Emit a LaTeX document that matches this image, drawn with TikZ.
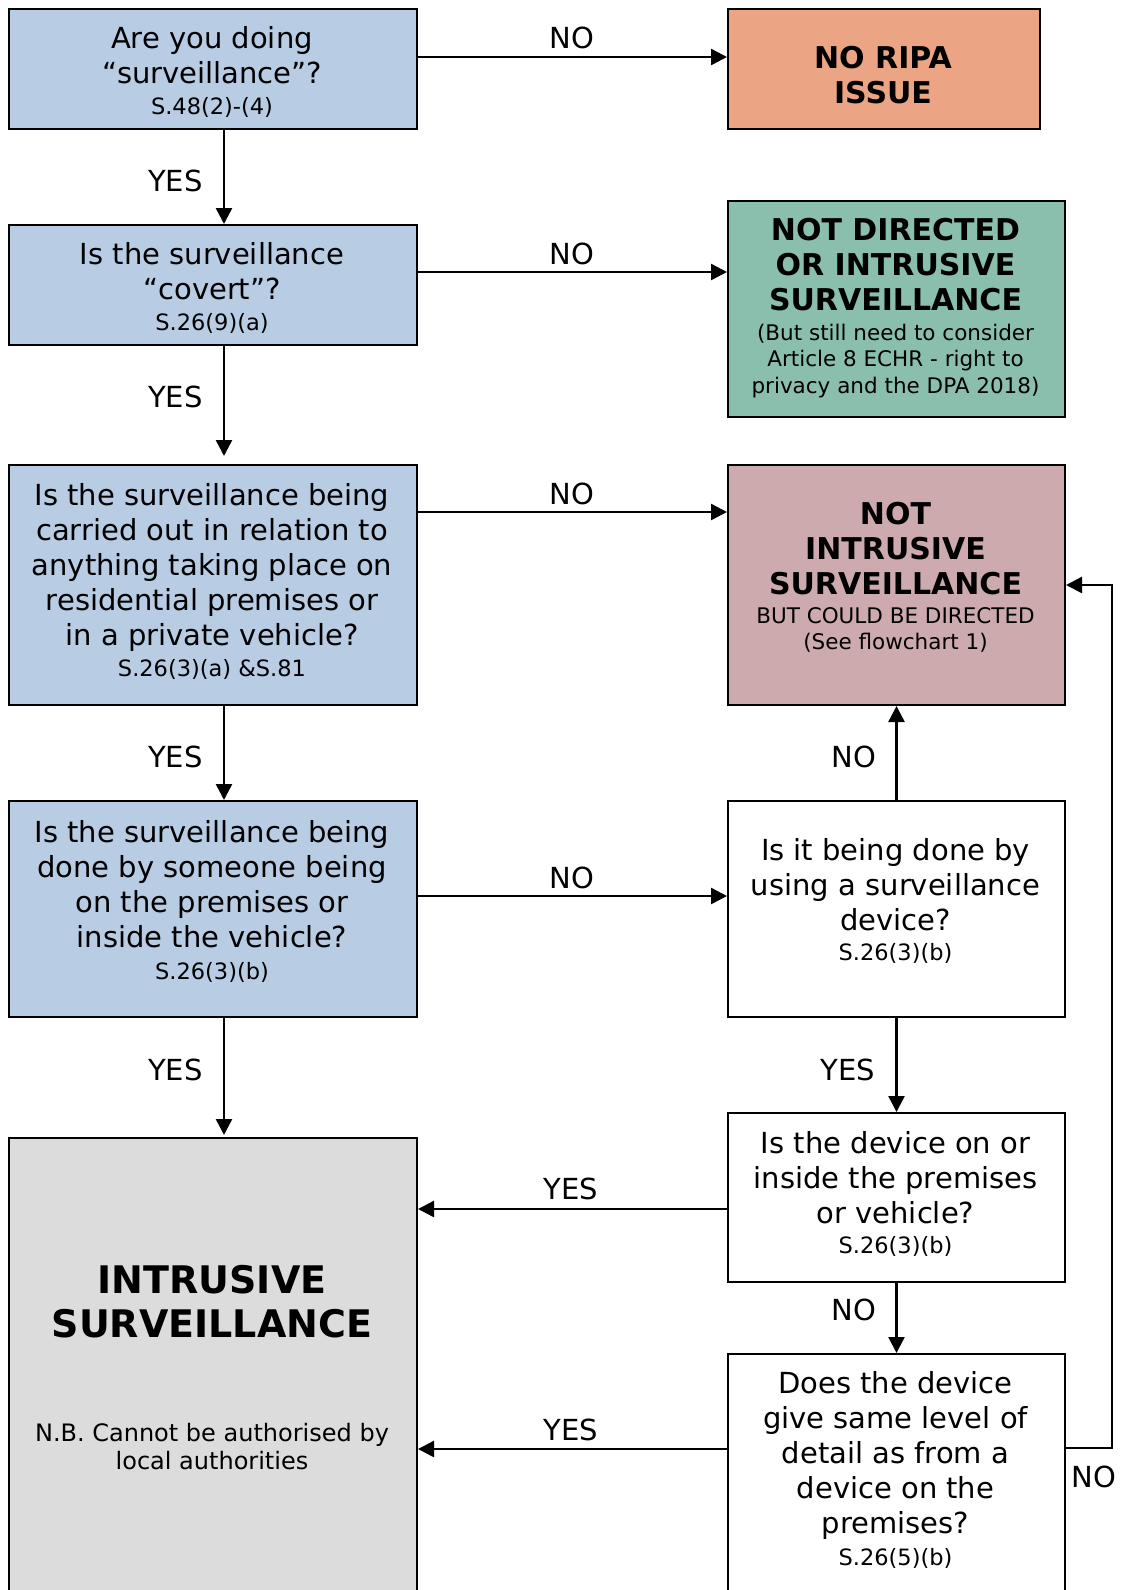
\documentclass[tikz,border=0pt]{standalone}
\usepackage{fontspec}
\setmainfont{DejaVu Sans}
\usetikzlibrary{arrows.meta}
\definecolor{bluebox}{HTML}{B8CCE4}
\definecolor{orangebox}{HTML}{ECA584}
\definecolor{greenbox}{HTML}{8BBFAD}
\definecolor{pinkbox}{HTML}{CDAAAD}
\definecolor{graybox}{HTML}{DCDCDC}
\begin{document}
\begin{tikzpicture}[x=1pt,y=-1pt,
  box/.style={draw=black, line width=2pt, anchor=north west, inner sep=0pt},
  arr/.style={line width=2.4pt, -{Triangle[length=16pt,width=16pt]}},
  maintxt/.style={anchor=north, inner sep=0pt, align=center, font=\fontsize{29}{35}\selectfont},
  reftxt/.style={anchor=base, inner sep=0pt, font=\fontsize{22.5}{26}\selectfont},
  boldtxt/.style={anchor=north, inner sep=0pt, align=center, font=\fontsize{30}{35}\selectfont\bfseries},
  smalltxt/.style={anchor=north, inner sep=0pt, align=center, font=\fontsize{21.5}{26.5}\selectfont},
  bigtxt/.style={anchor=north, inner sep=0pt, align=center, font=\fontsize{38}{44}\selectfont\bfseries},
  nbtxt/.style={anchor=north, inner sep=0pt, align=center, font=\fontsize{24}{28}\selectfont},
  lbl/.style={anchor=base, inner sep=0pt, font=\fontsize{29}{35}\selectfont}]
\clip (0,0) rectangle (1121,1590);
\fill[white] (0,0) rectangle (1121,1590);
% boxes
\node[box, fill=bluebox, minimum width=408pt, minimum height=120pt] (b1) at (8,8) {};
\node[box, fill=bluebox, minimum width=408pt, minimum height=120pt] (b2) at (8,224) {};
\node[box, fill=bluebox, minimum width=408pt, minimum height=240pt] (b3) at (8,464) {};
\node[box, fill=bluebox, minimum width=408pt, minimum height=216pt] (b4) at (8,800) {};
\node[box, fill=graybox, minimum width=408pt, minimum height=470pt] (b5) at (8,1137) {};
\node[box, fill=orangebox, minimum width=312pt, minimum height=120pt] (r1) at (727,8) {};
\node[box, fill=greenbox, minimum width=337pt, minimum height=216pt] (r2) at (727,200) {};
\node[box, fill=pinkbox, minimum width=337pt, minimum height=240pt] (r3) at (727,464) {};
\node[box, fill=white, minimum width=337pt, minimum height=216pt] (r4) at (727,800) {};
\node[box, fill=white, minimum width=337pt, minimum height=169pt] (r5) at (727,1112) {};
\node[box, fill=white, minimum width=337pt, minimum height=260pt] (r6) at (727,1353) {};
% texts
\node[maintxt] (b1t) at (212,23.5) {\strut Are you doing\\“surveillance”?};
\node[reftxt] (b1r) at (212,114.5) {S.48(2)-(4)};
\node[maintxt] (b2t) at (212,239.5) {\strut Is the surveillance\\“covert”?};
\node[reftxt] (b2r) at (212,330.5) {S.26(9)(a)};
\node[maintxt] (b3t) at (212,480.5) {\strut Is the surveillance being\\carried out in relation to\\anything taking place on\\residential premises or\\in a private vehicle?};
\node[reftxt] (b3r) at (212,676) {S.26(3)(a) \&S.81};
\node[maintxt] (b4t) at (212,817.5) {\strut Is the surveillance being\\done by someone being\\on the premises or\\inside the vehicle?};
\node[reftxt] (b4r) at (212,979) {S.26(3)(b)};
\node[bigtxt] (b5t) at (212,1262.2) {\strut INTRUSIVE\\SURVEILLANCE};
\node[nbtxt] (b5n) at (212,1421.4) {\strut N.B. Cannot be authorised by\\local authorities};
\node[boldtxt] (r1t) at (883,43.5) {\strut NO RIPA\\ISSUE};
\node[boldtxt] (r2t) at (895.5,215.5) {\strut NOT DIRECTED\\OR INTRUSIVE\\SURVEILLANCE};
\node[smalltxt] (r2s) at (895.5,321.45) {\strut (But still need to consider\\Article 8 ECHR - right to\\privacy and the DPA 2018)};
\node[boldtxt] (r3t) at (895.5,499.5) {\strut NOT\\INTRUSIVE\\SURVEILLANCE};
\node[smalltxt] (r3s) at (895.5,604.45) {\strut BUT COULD BE DIRECTED\\(See flowchart 1)};
\node[maintxt] (r4t) at (895.5,835.5) {\strut Is it being done by\\using a surveillance\\device?};
\node[reftxt] (r4r) at (895.5,960) {S.26(3)(b)};
\node[maintxt] (r5t) at (895.5,1128.5) {\strut Is the device on or\\inside the premises\\or vehicle?};
\node[reftxt] (r5r) at (895.5,1253) {S.26(3)(b)};
\node[maintxt] (r6t) at (895.5,1368.5) {\strut Does the device\\give same level of\\detail as from a\\device on the\\premises?};
\node[reftxt] (r6r) at (895.5,1565) {S.26(5)(b)};
% coordinates
\coordinate (xL) at (224,0);
\coordinate (xR) at (1112,0);
\coordinate (yA) at (0,57);
\coordinate (yB) at (0,272);
\coordinate (yC) at (0,512);
\coordinate (yD) at (0,896);
\coordinate (yE) at (0,1209);
\coordinate (yF) at (0,1449);
\coordinate (yG) at (0,1448);
\coordinate (yH) at (0,585);
% connectors
\draw[arr] (b1.east |- yA) -- (r1.west |- yA);
\draw[arr] (b2.east |- yB) -- (r2.west |- yB);
\draw[arr] (b3.east |- yC) -- (r3.west |- yC);
\draw[arr] (b4.east |- yD) -- (r4.west |- yD);
\draw[arr] (b1.south -| xL) -- (b2.north -| xL);
\draw[arr, shorten >=8pt] (b2.south -| xL) -- (b3.north -| xL);
\draw[arr] (b3.south -| xL) -- (b4.north -| xL);
\draw[arr, shorten >=2pt] (b4.south -| xL) -- (b5.north -| xL);
\draw[arr] (r4.north) -- (r3.south);
\draw[arr] (r4.south) -- (r5.north);
\draw[arr] (r5.south) -- (r6.north);
\draw[arr] (r5.west |- yE) -- (b5.east |- yE);
\draw[arr] (r6.west |- yF) -- (b5.east |- yF);
\draw[arr] (r6.east |- yG) -| (xR |- yH) -- (r3.east |- yH);
% labels
\node[lbl] (n1) at (572,48) {NO};
\node[lbl] (n2) at (572,264) {NO};
\node[lbl] (n3) at (572,504) {NO};
\node[lbl] (n4) at (572,888) {NO};
\node[lbl] (y1) at (175.5,191.5) {YES};
\node[lbl] (y2) at (175.5,407.5) {YES};
\node[lbl] (y3) at (175.5,767.5) {YES};
\node[lbl] (y4) at (175.5,1080) {YES};
\node[lbl] (n5) at (854,767.5) {NO};
\node[lbl] (y5) at (848,1080) {YES};
\node[lbl] (y6) at (571,1199.5) {YES};
\node[lbl] (y7) at (571,1440) {YES};
\node[lbl] (n6) at (854,1320) {NO};
\node[lbl] (n7) at (1094,1487) {NO};
\end{tikzpicture}
\end{document}
